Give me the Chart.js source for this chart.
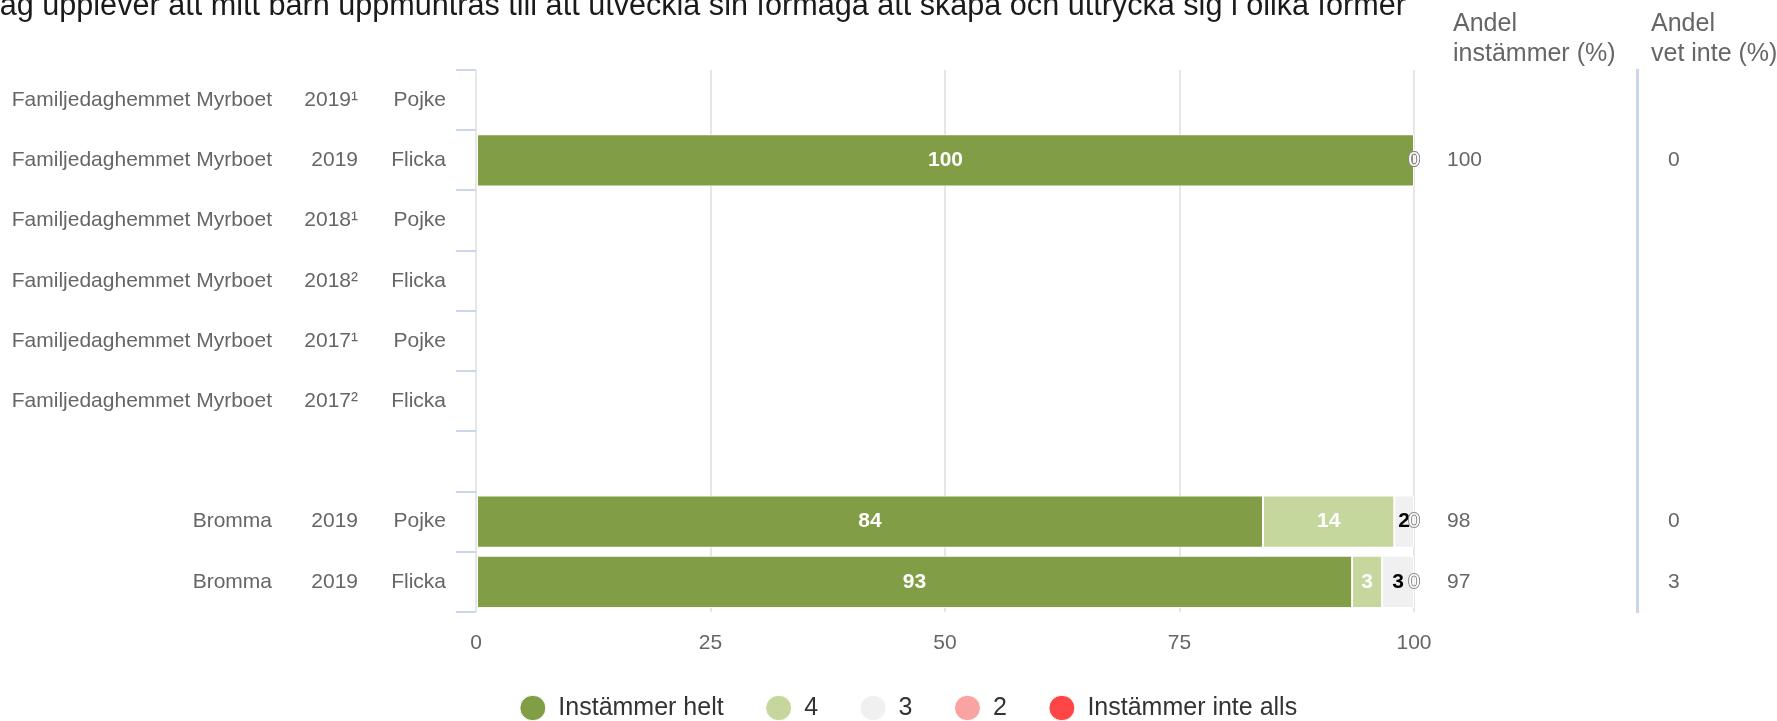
<!DOCTYPE html>
<html>
<head>
<meta charset="utf-8">
<script src="https://cdn.jsdelivr.net/npm/chart.js@4.4.1/dist/chart.umd.min.js"></script>
<style>
  html, body { margin: 0; padding: 0; background: #fff; }
</style>
</head>
<body>
<canvas id="myChart" width="1777" height="721"></canvas>
<script>
const titleText = "Jag upplever att mitt barn uppmuntras till att utveckla sin förmåga att skapa och uttrycka sig i olika former";

/* row labels, three columns */
const units = ["Familjedaghemmet Myrboet", "Familjedaghemmet Myrboet", "Familjedaghemmet Myrboet",
  "Familjedaghemmet Myrboet", "Familjedaghemmet Myrboet", "Familjedaghemmet Myrboet", "", "Bromma", "Bromma"];
const years = ["2019¹", "2019", "2018¹", "2018²", "2017¹", "2017²", "", "2019", "2019"];
const genders = ["Pojke", "Flicka", "Pojke", "Flicka", "Pojke", "Flicka", "", "Pojke", "Flicka"];

/* series (percent) */
const seriesNames = ["Instämmer helt", "4", "3", "2", "Instämmer inte alls"];
const helt = [null, 100, null, null, null, null, null, 83.9, 93.4];
const fyra = [null, 0, null, null, null, null, null, 14.0, 3.2];
const tre = [null, 0, null, null, null, null, null, 2.1, 3.4];
const tva = [null, 0, null, null, null, null, null, 0, 0];
const inteAlls = [null, 0, null, null, null, null, null, 0, 0];

/* right hand columns */
const andelInstammer = [null, 100, null, null, null, null, null, 98, 97];
const andelVetInte = [null, 0, null, null, null, null, null, 0, 3];

const xTicks = [0, 25, 50, 75, 100];

const colors = ["#819d45", "#c5d79d", "#f0f0f0", "#f9a3a3", "#ff4545"];
const labelColors = ["#ffffff", "#ffffff", "#000000", "#ffffff", "#ffffff"];
const font = "'Liberation Sans', Arial, sans-serif";

const seriesData = [helt, fyra, tre, tva, inteAlls];
const datasets = seriesNames.map((name, i) => ({
  label: name,
  data: seriesData[i],
  backgroundColor: colors[i],
  borderColor: "#ffffff",
  borderWidth: 1,
  borderSkipped: false,
  barPercentage: 0.867,
  categoryPercentage: 1,
}));

const toLabels = (arr) => arr.map((v) => (v === null ? "" : String(v)));

/* bar value labels */
const valueLabels = {
  id: "valueLabels",
  afterDatasetsDraw(chart) {
    const ctx = chart.ctx;
    ctx.save();
    ctx.textAlign = "center";
    ctx.textBaseline = "middle";
    chart.data.datasets.forEach((ds, i) => {
      const meta = chart.getDatasetMeta(i);
      meta.data.forEach((bar, j) => {
        const v = ds.data[j];
        if (v === null) return;
        const x = (bar.x + bar.base) / 2;
        const txt = String(Math.round(v));
        if (v === 0) {
          // empty segment: white text with a thin outline
          ctx.font = "21px " + font;
          ctx.lineWidth = 1.5;
          ctx.strokeStyle = "#8a8a8a";
          ctx.strokeText(txt, x, bar.y);
          ctx.fillStyle = "#ffffff";
        } else {
          ctx.font = "bold 21px " + font;
          ctx.fillStyle = labelColors[i];
        }
        ctx.fillText(txt, x, bar.y);
      });
    });
    ctx.restore();
  },
};

/* title and column headers */
const headers = {
  id: "headers",
  afterDraw(chart) {
    const ctx = chart.ctx;
    ctx.save();
    ctx.textBaseline = "alphabetic";
    ctx.fillStyle = "#1a1a1a";
    ctx.font = "30.6px " + font;
    ctx.textAlign = "right";
    ctx.fillText(titleText, 1406, 15);

    ctx.textAlign = "left";
    ctx.fillStyle = "#666666";
    ctx.font = "25px " + font;
    const s1 = chart.scales.yInst;
    const s2 = chart.scales.yVet;
    ctx.fillText("Andel", s1.left + 39, 31);
    ctx.fillText("instämmer (%)", s1.left + 39, 61);
    ctx.fillText("Andel", s2.left + 14, 31);
    ctx.fillText("vet inte (%)", s2.left + 14, 61);
    ctx.restore();
  },
};

const tickFont = { family: font, size: 21 };

let ctx = document.getElementById("myChart").getContext("2d");
let myChart = new Chart(ctx, {
  type: "bar",
  data: { labels: genders, datasets: datasets },
  plugins: [valueLabels, headers],
  options: {
    responsive: false,
    animation: false,
    indexAxis: "y",
    // negative right padding only shifts the legend centre a little to the right
    layout: { padding: { left: 0, top: 70, right: -40, bottom: 0 } },
    scales: {
      x: {
        type: "linear",
        stacked: true,
        min: xTicks[0],
        max: xTicks[xTicks.length - 1],
        afterBuildTicks: (scale) => {
          scale.ticks = xTicks.map((v) => ({ value: v }));
        },
        ticks: { color: "#666666", font: tickFont, padding: 19 },
        grid: { color: "#e6e6e6", lineWidth: 2, drawTicks: false },
        border: { display: false },
        afterFit: (scale) => { scale.height = 41.5; },
      },
      y: {
        type: "category",
        stacked: true,
        position: "left",
        weight: 0,
        offset: true,
        ticks: { color: "#666666", font: tickFont, padding: 10, autoSkip: false },
        grid: { offset: true, drawOnChartArea: false, drawTicks: true, tickLength: 20, color: "#ccd6eb", lineWidth: 2 },
        border: { display: false },
        afterFit: (scale) => { scale.width = 83; },
      },
      yYear: {
        type: "category",
        labels: years,
        position: "left",
        weight: 1,
        offset: true,
        ticks: { color: "#666666", font: tickFont, padding: 35, autoSkip: false },
        grid: { display: false, drawTicks: false },
        border: { display: false },
        afterFit: (scale) => { scale.width = 90; },
      },
      yUnit: {
        type: "category",
        labels: units,
        position: "left",
        weight: 2,
        offset: true,
        ticks: { color: "#666666", font: tickFont, padding: 31, autoSkip: false },
        grid: { display: false, drawTicks: false },
        border: { display: false },
        afterFit: (scale) => { scale.width = 303; },
      },
      yInst: {
        type: "category",
        labels: toLabels(andelInstammer),
        position: "right",
        weight: 0,
        offset: true,
        ticks: { color: "#666666", font: tickFont, padding: 33, autoSkip: false },
        grid: { display: true, drawOnChartArea: false, drawTicks: false },
        border: { display: false },
        afterFit: (scale) => { scale.width = 223; },
      },
      yVet: {
        type: "category",
        labels: toLabels(andelVetInte),
        position: "right",
        weight: 1,
        offset: true,
        ticks: { color: "#666666", font: tickFont, padding: 31, autoSkip: false },
        grid: { display: true, drawOnChartArea: false, drawTicks: false },
        border: { display: true, color: "#ccd6eb", width: 3 },
        afterFit: (scale) => { scale.width = 180; },
      },
    },
    plugins: {
      title: { display: false },
      tooltip: { enabled: false },
      legend: {
        position: "bottom",
        maxHeight: 67.5,
        labels: {
          usePointStyle: true,
          pointStyle: "circle",
          boxHeight: 18,
          pointStyleWidth: 26,
          padding: 42,
          color: "#333333",
          font: { family: font, size: 25 },
        },
      },
    },
  },
});
</script>
</body>
</html>
